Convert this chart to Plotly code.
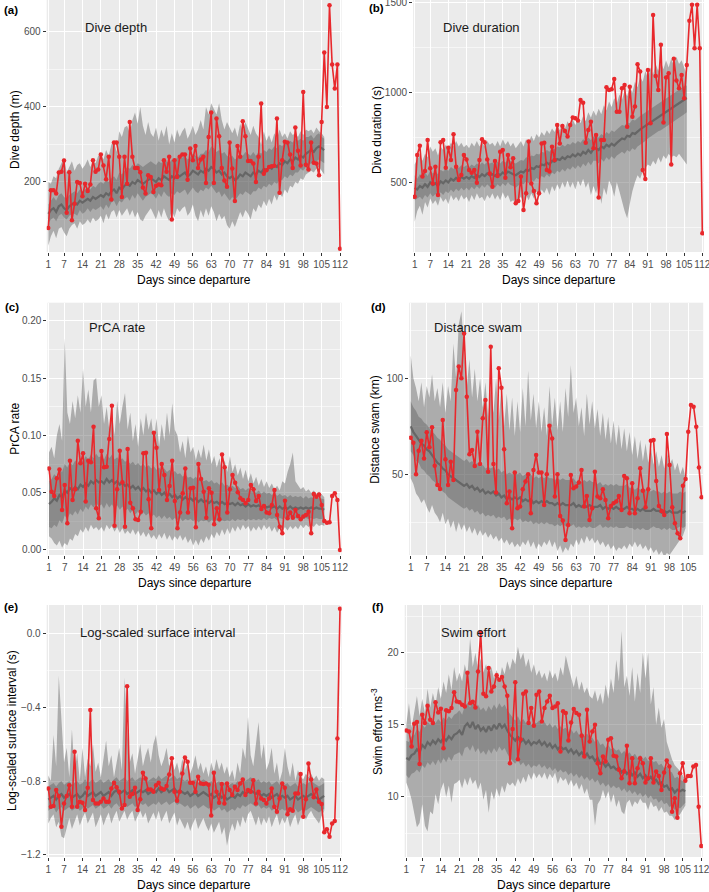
import plotly.graph_objects as go

W, H = 709, 892

# ------------------------------------------------------------------ data
ticks_112 = [1, 7, 14, 21, 28, 35, 42, 49, 56, 63, 70, 77, 84, 91, 98, 105, 112]
ticks_105 = [1, 7, 14, 21, 28, 35, 42, 49, 56, 63, 70, 77, 84, 91, 98, 105]

# (a) Dive depth
a_red = [77, 178, 178, 169, 225, 227, 257, 118, 226, 98,
         142, 200, 197, 162, 195, 176, 193, 258, 227, 233,
         273, 244, 207, 267, 153, 305, 305, 267, 160, 267,
         195, 360, 267, 237, 237, 226, 185, 169, 218, 213,
         173, 190, 193, 191, 258, 227, 267, 100, 258, 213,
         267, 273, 273, 206, 289, 258, 296, 237, 260, 267,
         197, 320, 385, 197, 369, 322, 237, 204, 187, 305,
         236, 149, 296, 267, 362, 322, 256, 256, 249, 200,
         267, 409, 222, 231, 240, 242, 243, 369, 171, 258,
         307, 305, 273, 237, 345, 283, 244, 440, 246, 233,
         305, 251, 249, 218, 360, 545, 400, 671, 513, 449,
         513, 22]
a_med = [115, 125, 130, 120, 135, 140, 130, 125, 135, 140,
         145, 140, 150, 145, 150, 155, 150, 160, 155, 160,
         165, 160, 170, 165, 175, 180, 170, 185, 180, 190,
         195, 190, 200, 195, 205, 200, 195, 200, 205, 210,
         205, 200, 210, 205, 215, 210, 205, 215, 210, 220,
         215, 220, 225, 215, 220, 230, 225, 220, 230, 225,
         235, 230, 240, 235, 225, 230, 220, 225, 215, 210,
         215, 205, 210, 220, 215, 225, 220, 215, 225, 220,
         230, 225, 235, 230, 240, 235, 245, 240, 250, 245,
         255, 250, 260, 255, 265, 260, 270, 265, 275, 280,
         285, 280, 290, 295, 290, 285]
a_in_lo = [90, 100, 105, 95, 110, 115, 105, 100, 110, 115,
           115, 110, 125, 115, 120, 130, 120, 130, 125, 130,
           135, 125, 140, 130, 145, 150, 135, 150, 145, 155,
           160, 150, 165, 155, 170, 160, 150, 160, 165, 170,
           165, 155, 170, 160, 175, 165, 160, 170, 165, 175,
           170, 175, 180, 165, 175, 185, 175, 170, 180, 175,
           185, 180, 190, 180, 170, 175, 160, 170, 160, 150,
           160, 150, 160, 170, 165, 175, 170, 165, 175, 175,
           185, 180, 190, 185, 195, 190, 200, 195, 205, 205,
           215, 210, 220, 215, 225, 225, 235, 230, 240, 245,
           250, 250, 255, 260, 255, 250]
a_in_hi = [140, 150, 160, 150, 165, 170, 160, 155, 165, 170,
           175, 170, 180, 175, 180, 185, 180, 190, 185, 195,
           200, 195, 205, 200, 210, 215, 205, 225, 220, 230,
           240, 235, 245, 240, 250, 245, 240, 245, 250, 255,
           250, 245, 255, 250, 260, 255, 250, 260, 255, 265,
           260, 265, 270, 260, 265, 275, 270, 265, 275, 275,
           285, 280, 295, 290, 280, 285, 275, 280, 270, 265,
           270, 260, 265, 275, 270, 280, 275, 270, 280, 270,
           280, 275, 285, 280, 290, 285, 295, 290, 300, 295,
           305, 300, 310, 305, 315, 310, 315, 310, 320, 320,
           325, 315, 325, 330, 320, 315]
a_out_lo = [30, 55, 70, 50, 75, 80, 65, 55, 75, 85,
            90, 75, 95, 85, 90, 100, 90, 105, 95, 100,
            110, 90, 115, 100, 120, 125, 105, 125, 110, 120,
            130, 110, 125, 105, 120, 100, 95, 110, 120, 130,
            115, 100, 125, 105, 130, 110, 95, 125, 105, 130,
            120, 130, 135, 110, 120, 140, 110, 95, 125, 105,
            130, 110, 135, 120, 95, 115, 100, 110, 85, 75,
            95, 80, 100, 120, 105, 125, 115, 100, 130, 120,
            140, 130, 150, 135, 155, 140, 165, 150, 170, 160,
            180, 170, 190, 185, 200, 195, 210, 205, 220, 225,
            230, 225, 235, 240, 230, 220]
a_out_hi = [200, 195, 215, 210, 235, 250, 265, 225, 240, 255,
            230, 245, 250, 235, 245, 260, 240, 255, 250, 270,
            275, 260, 285, 270, 300, 310, 280, 335, 320, 345,
            350, 330, 365, 385, 355, 400, 350, 325, 360, 330,
            320, 345, 310, 340, 320, 350, 300, 330, 305, 340,
            320, 335, 345, 315, 330, 350, 325, 340, 365, 340,
            400, 380, 410, 395, 380, 410, 365, 340, 360, 345,
            330, 345, 320, 355, 335, 360, 340, 325, 350, 330,
            320, 300, 335, 310, 325, 305, 330, 315, 340, 320,
            330, 315, 335, 325, 330, 320, 335, 325, 340, 335,
            340, 330, 345, 335, 330, 320]

# (b) Dive duration
b_red = [420, 652, 704, 532, 563, 736, 578, 494, 587, 429,
         723, 736, 582, 693, 625, 768, 587, 513, 541, 652,
         628, 569, 554, 569, 498, 625, 740, 723, 628, 550,
         476, 619, 535, 671, 680, 526, 652, 584, 634, 383,
         396, 532, 346, 439, 727, 494, 452, 383, 439, 717,
         721, 569, 560, 699, 625, 820, 717, 814, 786, 755,
         820, 862, 857, 844, 959, 944, 721, 792, 838, 690,
         764, 415, 736, 736, 1030, 1015, 1019, 1076, 894, 894,
         1024, 1043, 810, 1033, 866, 922, 1158, 1117, 569, 519,
         1126, 829, 1433, 1093, 1015, 1266, 833, 1084, 1108, 600,
         1188, 1067, 1024, 1098, 968, 1154, 1401, 1489, 1247, 1489,
         1247, 216]
b_med = [470, 460, 480, 470, 490, 475, 500, 485, 495, 480,
         505, 495, 510, 500, 520, 510, 525, 515, 530, 520,
         530, 520, 535, 525, 540, 530, 545, 535, 550, 540,
         545, 535, 550, 540, 555, 545, 560, 550, 545, 540,
         550, 560, 555, 570, 565, 580, 575, 590, 585, 600,
         595, 610, 600, 620, 615, 630, 625, 640, 630, 645,
         640, 655, 645, 660, 650, 670, 660, 680, 665, 685,
         690, 680, 700, 690, 710, 700, 715, 705, 720, 730,
         745, 740, 760, 755, 775, 770, 785, 795, 805, 815,
         825, 835, 845, 855, 865, 875, 885, 895, 905, 915,
         925, 935, 945, 955, 960, 970]
b_in_lo = [400, 410, 420, 405, 430, 415, 440, 420, 435, 420,
           445, 430, 450, 440, 460, 445, 465, 450, 470, 455,
           470, 455, 475, 460, 480, 465, 485, 470, 490, 475,
           485, 470, 490, 475, 495, 480, 500, 485, 480, 470,
           485, 495, 490, 505, 495, 515, 505, 525, 515, 535,
           525, 545, 530, 555, 545, 565, 555, 575, 560, 580,
           570, 590, 575, 595, 580, 605, 590, 615, 595, 620,
           620, 605, 630, 615, 640, 625, 645, 630, 650, 660,
           670, 660, 680, 670, 690, 680, 700, 710, 720, 730,
           745, 755, 765, 775, 785, 790, 800, 810, 820, 830,
           840, 850, 860, 870, 880, 890]
b_in_hi = [540, 520, 545, 535, 555, 535, 565, 550, 560, 545,
           570, 560, 575, 565, 585, 575, 590, 580, 595, 585,
           595, 585, 600, 590, 605, 595, 610, 600, 615, 605,
           610, 600, 615, 605, 620, 610, 625, 615, 610, 605,
           615, 625, 620, 640, 635, 650, 645, 660, 655, 670,
           665, 680, 670, 690, 685, 700, 695, 710, 700, 715,
           710, 725, 715, 730, 720, 740, 730, 750, 735, 755,
           760, 750, 770, 760, 780, 770, 790, 780, 795, 805,
           820, 815, 835, 830, 850, 845, 860, 870, 880, 890,
           900, 910, 920, 930, 940, 950, 960, 970, 980, 990,
           1000, 1010, 1020, 1030, 1035, 1040]
b_out_lo = [280, 340, 370, 320, 390, 360, 410, 380, 400, 370,
            420, 390, 410, 380, 430, 400, 420, 395, 430, 405,
            420, 390, 430, 400, 440, 410, 420, 395, 430, 410,
            440, 405, 430, 400, 445, 410, 430, 390, 400, 380,
            400, 420, 390, 430, 400, 440, 410, 450, 420, 460,
            440, 470, 430, 480, 450, 490, 460, 500, 470, 510,
            470, 500, 460, 510, 480, 520, 470, 500, 430, 480,
            440, 500, 380, 470, 430, 510, 480, 420, 500, 450,
            400, 340, 300, 380, 450, 500, 540, 520, 560, 580,
            600, 590, 620, 600, 640, 610, 650, 630, 660, 640,
            650, 640, 660, 640, 620, 600]
b_out_hi = [600, 630, 650, 620, 660, 640, 700, 670, 690, 650,
            700, 680, 710, 690, 720, 700, 730, 700, 720, 695,
            710, 690, 720, 700, 730, 700, 720, 700, 730, 710,
            720, 700, 730, 700, 740, 710, 730, 700, 720, 690,
            710, 730, 700, 740, 720, 760, 730, 770, 750, 780,
            760, 790, 770, 800, 780, 820, 790, 830, 800, 840,
            810, 850, 820, 860, 830, 870, 840, 890, 860, 900,
            870, 910, 880, 930, 900, 950, 920, 970, 940, 990,
            960, 1010, 980, 1030, 1000, 1060, 1030, 1090, 1060, 1120,
            1080, 1140, 1100, 1160, 1120, 1170, 1130, 1180, 1140, 1190,
            1150, 1200, 1160, 1180, 1140, 1100]

# (c) PrCA rate
c_red = [0.0712, 0.0509, 0.0471, 0.0625, 0.0703, 0.0349, 0.0567, 0.0233, 0.0779, 0.0436,
         0.0529, 0.0953, 0.0756, 0.0843, 0.0422, 0.0779, 0.0765, 0.1076, 0.0363, 0.0276,
         0.0863, 0.0721, 0.0727, 0.0968, 0.1259, 0.0212, 0.0529, 0.0866, 0.0590, 0.0203,
         0.0881, 0.0413, 0.0363, 0.0267, 0.0262, 0.0334, 0.0843, 0.0849, 0.0442, 0.0189,
         0.1023, 0.0892, 0.0523, 0.0750, 0.0654, 0.0436, 0.0558, 0.0779, 0.0427, 0.0189,
         0.0326, 0.0494, 0.0712, 0.0326, 0.0538, 0.0544, 0.0198, 0.0750, 0.0619, 0.0509,
         0.0282, 0.0538, 0.0500, 0.0224, 0.0363, 0.0267, 0.0834, 0.0721, 0.0326, 0.0529,
         0.0654, 0.0587, 0.0503, 0.0451, 0.0436, 0.0407, 0.0436, 0.0567, 0.0529, 0.0427,
         0.0471, 0.0358, 0.0384, 0.0326, 0.0320, 0.0392, 0.0523, 0.0305, 0.0203, 0.0145,
         0.0430, 0.0276, 0.0326, 0.0282, 0.0349, 0.0297, 0.0267, 0.0291, 0.0305, 0.0334,
         0.0145, 0.0488, 0.0465, 0.0485, 0.0392, 0.0253, 0.0238, 0.0241, 0.0471, 0.0494,
         0.0436, 0.0]
c_med = [0.040, 0.042, 0.045, 0.043, 0.048, 0.046, 0.052, 0.050, 0.054, 0.052,
         0.055, 0.053, 0.057, 0.055, 0.058, 0.056, 0.060, 0.058, 0.061, 0.059,
         0.060, 0.058, 0.062, 0.059, 0.061, 0.058, 0.060, 0.057, 0.059, 0.056,
         0.057, 0.054, 0.056, 0.053, 0.055, 0.052, 0.054, 0.051, 0.053, 0.050,
         0.052, 0.049, 0.051, 0.048, 0.050, 0.047, 0.049, 0.046, 0.048, 0.045,
         0.047, 0.044, 0.046, 0.044, 0.045, 0.043, 0.045, 0.042, 0.044, 0.042,
         0.043, 0.041, 0.043, 0.041, 0.042, 0.040, 0.042, 0.040, 0.041, 0.040,
         0.041, 0.039, 0.041, 0.039, 0.040, 0.038, 0.040, 0.038, 0.039, 0.038,
         0.039, 0.037, 0.039, 0.037, 0.038, 0.037, 0.038, 0.036, 0.038, 0.036,
         0.037, 0.036, 0.038, 0.036, 0.037, 0.036, 0.037, 0.036, 0.037, 0.036,
         0.037, 0.036, 0.037, 0.036, 0.036, 0.035]
c_in_lo = [0.020, 0.019, 0.022, 0.020, 0.026, 0.023, 0.030, 0.027, 0.032, 0.030,
           0.034, 0.031, 0.036, 0.033, 0.038, 0.035, 0.040, 0.037, 0.041, 0.038,
           0.040, 0.036, 0.041, 0.037, 0.040, 0.036, 0.039, 0.035, 0.038, 0.034,
           0.036, 0.032, 0.035, 0.031, 0.034, 0.030, 0.033, 0.030, 0.032, 0.029,
           0.031, 0.028, 0.030, 0.027, 0.030, 0.027, 0.029, 0.026, 0.028, 0.026,
           0.028, 0.025, 0.027, 0.026, 0.027, 0.025, 0.027, 0.024, 0.026, 0.025,
           0.026, 0.024, 0.026, 0.025, 0.026, 0.024, 0.026, 0.025, 0.026, 0.025,
           0.027, 0.025, 0.027, 0.026, 0.027, 0.025, 0.027, 0.026, 0.027, 0.026,
           0.027, 0.026, 0.028, 0.026, 0.028, 0.027, 0.028, 0.026, 0.028, 0.027,
           0.028, 0.027, 0.029, 0.027, 0.028, 0.027, 0.028, 0.027, 0.028, 0.027,
           0.028, 0.027, 0.028, 0.027, 0.027, 0.026]
c_in_hi = [0.060, 0.062, 0.066, 0.064, 0.070, 0.068, 0.075, 0.072, 0.077, 0.074,
           0.078, 0.075, 0.080, 0.077, 0.082, 0.079, 0.083, 0.080, 0.084, 0.081,
           0.082, 0.079, 0.084, 0.080, 0.083, 0.079, 0.081, 0.078, 0.080, 0.077,
           0.078, 0.075, 0.077, 0.074, 0.076, 0.073, 0.075, 0.072, 0.074, 0.071,
           0.073, 0.070, 0.072, 0.069, 0.071, 0.068, 0.070, 0.067, 0.069, 0.066,
           0.067, 0.064, 0.066, 0.063, 0.064, 0.062, 0.064, 0.061, 0.063, 0.060,
           0.061, 0.059, 0.061, 0.058, 0.059, 0.057, 0.059, 0.056, 0.057, 0.055,
           0.056, 0.054, 0.056, 0.053, 0.054, 0.052, 0.054, 0.051, 0.052, 0.050,
           0.052, 0.049, 0.051, 0.049, 0.050, 0.048, 0.050, 0.047, 0.049, 0.047,
           0.048, 0.046, 0.048, 0.046, 0.047, 0.046, 0.047, 0.045, 0.047, 0.045,
           0.046, 0.045, 0.046, 0.045, 0.045, 0.044]
c_out_lo = [0.012, 0.010, 0.006, 0.004, 0.008, 0.002, 0.006, 0.004, 0.010, 0.008,
            0.014, 0.012, 0.018, 0.015, 0.020, 0.016, 0.022, 0.018, 0.020, 0.017,
            0.020, 0.016, 0.022, 0.018, 0.021, 0.016, 0.020, 0.015, 0.019, 0.014,
            0.017, 0.014, 0.018, 0.013, 0.017, 0.012, 0.016, 0.011, 0.015, 0.010,
            0.013, 0.009, 0.014, 0.010, 0.015, 0.009, 0.013, 0.008, 0.012, 0.009,
            0.013, 0.008, 0.012, 0.006, 0.010, 0.004, 0.009, 0.004, 0.010, 0.006,
            0.012, 0.008, 0.014, 0.010, 0.016, 0.012, 0.018, 0.013, 0.019, 0.014,
            0.020, 0.016, 0.021, 0.017, 0.022, 0.018, 0.021, 0.016, 0.020, 0.017,
            0.021, 0.017, 0.022, 0.018, 0.021, 0.016, 0.020, 0.015, 0.019, 0.016,
            0.020, 0.017, 0.021, 0.018, 0.021, 0.018, 0.022, 0.019, 0.022, 0.020,
            0.022, 0.020, 0.023, 0.021, 0.022, 0.021]
c_out_hi = [0.085, 0.090, 0.080, 0.100, 0.110, 0.095, 0.185, 0.120, 0.110, 0.130,
            0.115, 0.135, 0.120, 0.158, 0.125, 0.140, 0.120, 0.148, 0.150, 0.125,
            0.135, 0.110, 0.125, 0.105, 0.120, 0.100, 0.130, 0.110, 0.125, 0.137,
            0.105, 0.120, 0.095, 0.110, 0.090, 0.115, 0.100, 0.120, 0.105, 0.115,
            0.095, 0.115, 0.090, 0.110, 0.095, 0.120, 0.100, 0.128, 0.105, 0.100,
            0.085, 0.095, 0.080, 0.100, 0.085, 0.090, 0.078, 0.088, 0.080, 0.092,
            0.078, 0.088, 0.075, 0.082, 0.072, 0.080, 0.070, 0.078, 0.068, 0.082,
            0.068, 0.075, 0.065, 0.072, 0.062, 0.070, 0.060, 0.067, 0.058, 0.064,
            0.056, 0.062, 0.055, 0.060, 0.054, 0.058, 0.053, 0.056, 0.052, 0.060,
            0.058, 0.068, 0.075, 0.085, 0.060, 0.056, 0.053, 0.055, 0.051, 0.053,
            0.050, 0.052, 0.049, 0.051, 0.048, 0.046]

# (d) Distance swam
d_red = [69.1, 66.5, 50.0, 62.3, 67.5, 58.3, 71.9, 64.1, 74.5, 54.5,
         44.4, 42.4, 78.3, 57.8, 44.4, 56.6, 47.0, 93.9, 106.1, 100.0,
         123.4, 90.4, 60.4, 62.7, 54.3, 72.2, 55.4, 79.2, 88.7, 51.4,
         116.5, 55.4, 40.5, 105.2, 95.1, 63.0, 34.9, 41.0, 21.9, 50.9,
         32.3, 33.2, 42.2, 46.2, 50.0, 29.7, 52.3, 60.1, 50.9, 50.9,
         34.0, 50.0, 75.3, 68.7, 38.4, 50.0, 28.3, 25.9, 15.8, 23.6,
         49.7, 42.7, 43.6, 45.7, 52.3, 33.2, 38.7, 26.2, 32.3, 51.4,
         38.4, 37.5, 42.2, 36.6, 27.1, 33.5, 34.9, 35.8, 38.7, 31.4,
         49.1, 47.9, 29.7, 45.3, 29.7, 37.5, 53.1, 41.5, 32.8, 42.2,
         67.5, 67.9, 46.5, 33.5, 30.9, 28.8, 71.0, 54.9, 32.8, 24.5,
         19.3, 16.7, 44.1, 47.6, 72.2, 86.1, 85.2, 74.8, 53.6, 38.0]
d_med = [75, 72, 70, 68, 66, 65, 63, 62, 60, 58,
         56, 55, 53, 52, 50, 49, 48, 47, 46, 45,
         44, 45, 43, 44, 42, 43, 41, 42, 40, 41,
         40, 41, 39, 40, 38, 39, 37, 38, 37, 38,
         37, 38, 36, 37, 36, 37, 35, 36, 35, 36,
         35, 36, 35, 35, 34, 35, 34, 35, 34, 34,
         34, 35, 33, 34, 33, 34, 33, 34, 33, 33,
         33, 34, 32, 33, 32, 33, 32, 33, 32, 32,
         32, 33, 32, 32, 31, 32, 31, 32, 31, 31,
         31, 32, 31, 31, 30, 31, 30, 31, 30, 30,
         30, 31, 30, 31]
d_in_lo = [62, 60, 57, 56, 53, 52, 50, 49, 47, 46,
           44, 43, 41, 40, 38, 37, 36, 35, 34, 33,
           32, 33, 31, 32, 30, 31, 29, 30, 28, 29,
           28, 29, 27, 28, 27, 28, 26, 27, 26, 27,
           26, 27, 25, 26, 25, 26, 24, 25, 24, 25,
           24, 25, 24, 24, 23, 24, 23, 24, 23, 23,
           23, 24, 22, 23, 22, 23, 22, 23, 22, 22,
           23, 24, 22, 23, 22, 23, 22, 23, 22, 22,
           22, 23, 22, 22, 21, 22, 21, 22, 21, 21,
           22, 23, 22, 22, 21, 22, 21, 22, 21, 21,
           22, 23, 22, 23]
d_in_hi = [88, 85, 83, 80, 79, 77, 76, 74, 72, 71,
           69, 68, 66, 65, 63, 62, 61, 60, 59, 58,
           57, 58, 56, 57, 55, 56, 54, 55, 53, 54,
           53, 54, 52, 53, 51, 52, 50, 51, 50, 51,
           50, 51, 49, 50, 49, 50, 48, 49, 48, 49,
           48, 49, 48, 48, 47, 48, 47, 48, 47, 47,
           47, 48, 46, 47, 46, 47, 46, 47, 46, 46,
           45, 46, 44, 45, 44, 45, 44, 45, 44, 44,
           44, 45, 43, 43, 42, 43, 42, 43, 42, 42,
           41, 42, 41, 41, 40, 41, 40, 41, 40, 40,
           40, 41, 40, 41]
d_out_lo = [48, 45, 40, 38, 35, 37, 33, 30, 34, 30,
            28, 25, 30, 24, 27, 22, 26, 20, 25, 21,
            24, 20, 23, 19, 22, 18, 21, 18, 20, 17,
            19, 16, 18, 15, 17, 14, 16, 13, 15, 12,
            14, 12, 15, 13, 16, 12, 15, 11, 14, 12,
            15, 13, 16, 12, 15, 10, 13, 9, 12, 10,
            14, 12, 16, 13, 17, 14, 18, 15, 17, 14,
            16, 13, 15, 12, 14, 11, 13, 10, 12, 11,
            13, 11, 14, 12, 15, 12, 14, 11, 13, 10,
            12, 9, 11, 8, 10, 7, 9, 8, 10, 12,
            14, 16, 18, 22]
d_out_hi = [112, 100, 95, 88, 98, 85, 96, 90, 102, 88,
            95, 85, 98, 82, 96, 88, 118, 100, 128, 135,
            115, 95, 110, 90, 105, 88, 100, 85, 98, 80,
            95, 82, 100, 78, 96, 75, 92, 73, 90, 70,
            88, 72, 95, 75, 104, 78, 92, 74, 88, 72,
            85, 70, 96, 75, 90, 73, 88, 72, 95, 80,
            107, 82, 90, 75, 85, 70, 92, 76, 88, 74,
            84, 70, 82, 68, 80, 66, 78, 65, 76, 63,
            74, 62, 72, 60, 70, 58, 68, 57, 66, 56,
            64, 55, 62, 54, 60, 53, 62, 55, 58, 52,
            56, 50, 54, 48]

# (e) Log-scaled surface interval
e_red = [-0.840, -0.939, -0.935, -0.849, -0.881, -1.047, -0.921, -0.881, -0.822, -0.939,
         -0.641, -0.939, -0.912, -0.917, -0.957, -0.836, -0.416, -0.903, -0.921, -0.921,
         -0.912, -0.894, -0.912, -0.912, -0.840, -0.809, -0.834, -0.858, -0.948, -0.930,
         -0.287, -0.885, -0.870, -0.836, -0.957, -0.899, -0.755, -0.786, -0.845, -0.845,
         -0.858, -0.822, -0.809, -0.840, -0.845, -0.827, -0.764, -0.677, -0.858, -0.906,
         -0.858, -0.759, -0.672, -0.696, -0.809, -0.809, -0.858, -0.777, -0.813, -0.816,
         -0.813, -0.820, -0.987, -0.755, -0.858, -0.917, -0.816, -0.921, -0.813, -0.849,
         -0.876, -0.831, -0.849, -0.813, -0.791, -0.876, -0.849, -0.858, -0.795, -0.921,
         -0.858, -0.894, -0.903, -0.921, -0.894, -0.840, -0.939, -0.966, -0.894, -0.813,
         -0.836, -0.980, -0.953, -0.960, -0.867, -0.867, -0.762, -0.993, -0.899, -0.705,
         -0.791, -0.888, -0.845, -0.912, -0.924, -1.077, -1.061, -1.101, -1.029, -1.016,
         -0.569, 0.133]
e_med = [-0.90, -0.89, -0.88, -0.90, -0.88, -0.87, -0.89, -0.88, -0.87, -0.89,
         -0.88, -0.87, -0.89, -0.88, -0.86, -0.88, -0.87, -0.86, -0.88, -0.87,
         -0.86, -0.88, -0.87, -0.86, -0.88, -0.86, -0.85, -0.87, -0.86, -0.85,
         -0.87, -0.86, -0.85, -0.87, -0.86, -0.85, -0.86, -0.85, -0.87, -0.86,
         -0.85, -0.86, -0.84, -0.86, -0.85, -0.84, -0.86, -0.85, -0.84, -0.86,
         -0.85, -0.86, -0.87, -0.86, -0.88, -0.87, -0.86, -0.88, -0.87, -0.86,
         -0.87, -0.88, -0.87, -0.89, -0.88, -0.87, -0.89, -0.88, -0.90, -0.89,
         -0.88, -0.89, -0.87, -0.88, -0.86, -0.87, -0.86, -0.85, -0.86, -0.87,
         -0.86, -0.88, -0.87, -0.88, -0.87, -0.89, -0.88, -0.87, -0.89, -0.88,
         -0.89, -0.88, -0.90, -0.89, -0.88, -0.90, -0.89, -0.88, -0.89, -0.88,
         -0.87, -0.88, -0.89, -0.90, -0.89, -0.88]
e_in_lo = [-0.96, -0.95, -0.94, -0.97, -0.95, -0.94, -0.96, -0.95, -0.94, -0.96,
           -0.95, -0.94, -0.96, -0.95, -0.93, -0.95, -0.94, -0.93, -0.95, -0.94,
           -0.93, -0.95, -0.94, -0.93, -0.95, -0.93, -0.92, -0.94, -0.93, -0.92,
           -0.94, -0.93, -0.92, -0.94, -0.93, -0.92, -0.93, -0.92, -0.94, -0.93,
           -0.92, -0.93, -0.91, -0.93, -0.92, -0.91, -0.93, -0.92, -0.91, -0.93,
           -0.92, -0.93, -0.94, -0.93, -0.95, -0.94, -0.93, -0.95, -0.94, -0.93,
           -0.94, -0.95, -0.94, -0.96, -0.95, -0.94, -0.96, -0.95, -0.97, -0.96,
           -0.95, -0.96, -0.94, -0.95, -0.93, -0.94, -0.93, -0.92, -0.93, -0.94,
           -0.93, -0.95, -0.94, -0.95, -0.94, -0.96, -0.95, -0.94, -0.96, -0.95,
           -0.96, -0.95, -0.97, -0.96, -0.95, -0.97, -0.96, -0.95, -0.96, -0.95,
           -0.94, -0.95, -0.96, -0.97, -0.96, -0.95]
e_in_hi = [-0.83, -0.82, -0.81, -0.83, -0.81, -0.80, -0.82, -0.81, -0.80, -0.82,
           -0.81, -0.80, -0.82, -0.81, -0.79, -0.81, -0.80, -0.79, -0.81, -0.80,
           -0.79, -0.81, -0.80, -0.79, -0.81, -0.79, -0.78, -0.80, -0.79, -0.78,
           -0.80, -0.79, -0.78, -0.80, -0.79, -0.78, -0.79, -0.78, -0.80, -0.79,
           -0.78, -0.79, -0.77, -0.79, -0.78, -0.77, -0.79, -0.78, -0.77, -0.79,
           -0.78, -0.79, -0.80, -0.79, -0.81, -0.80, -0.79, -0.81, -0.80, -0.79,
           -0.80, -0.81, -0.80, -0.82, -0.81, -0.80, -0.82, -0.81, -0.83, -0.82,
           -0.81, -0.82, -0.80, -0.81, -0.79, -0.80, -0.79, -0.78, -0.79, -0.80,
           -0.79, -0.81, -0.80, -0.81, -0.80, -0.82, -0.81, -0.80, -0.82, -0.81,
           -0.82, -0.81, -0.83, -0.82, -0.81, -0.83, -0.82, -0.81, -0.82, -0.81,
           -0.80, -0.81, -0.82, -0.83, -0.82, -0.81]
e_out_lo = [-1.03, -1.00, -0.98, -1.05, -1.02, -1.10, -1.11, -1.05, -1.00, -1.06,
            -1.02, -0.98, -1.04, -1.00, -0.97, -1.03, -1.00, -0.97, -1.05, -1.02,
            -0.98, -1.04, -1.00, -0.97, -1.03, -0.99, -0.96, -1.02, -0.99, -0.96,
            -1.01, -0.98, -0.96, -1.02, -0.99, -0.96, -1.00, -0.97, -1.03, -1.00,
            -0.97, -1.01, -0.96, -1.02, -0.99, -0.96, -1.03, -1.00, -0.97, -1.04,
            -1.00, -1.03, -1.06, -1.02, -1.07, -1.03, -1.00, -1.06, -1.03, -1.00,
            -1.04, -1.07, -1.03, -1.08, -1.05, -1.02, -1.09, -1.05, -1.15, -1.08,
            -1.03, -1.07, -1.01, -1.05, -0.99, -1.03, -0.98, -0.96, -1.00, -1.04,
            -0.99, -1.04, -1.00, -1.03, -0.99, -1.05, -1.01, -0.98, -1.04, -1.00,
            -1.03, -0.99, -1.05, -1.01, -0.98, -1.04, -1.00, -0.97, -1.01, -0.98,
            -0.96, -0.99, -1.01, -1.03, -0.99, -0.96]
e_out_hi = [-0.77, -0.80, -0.55, -0.72, -0.23, -0.45, -0.70, -0.62, -0.78, -0.52,
            -0.75, -0.65, -0.80, -0.62, -0.78, -0.68, -0.72, -0.60, -0.75, -0.70,
            -0.78, -0.68, -0.58, -0.72, -0.66, -0.78, -0.70, -0.62, -0.74, -0.24,
            -0.52, -0.70, -0.65, -0.76, -0.68, -0.60, -0.72, -0.66, -0.62, -0.70,
            -0.60, -0.55, -0.66, -0.72, -0.68, -0.62, -0.72, -0.68, -0.74, -0.70,
            -0.76, -0.68, -0.74, -0.70, -0.76, -0.72, -0.66, -0.74, -0.70, -0.76,
            -0.72, -0.78, -0.70, -0.75, -0.68, -0.74, -0.70, -0.76, -0.72, -0.78,
            -0.74, -0.80, -0.70, -0.76, -0.62, -0.68, -0.45, -0.66, -0.72, -0.60,
            -0.48, -0.68, -0.60, -0.74, -0.70, -0.62, -0.76, -0.70, -0.80, -0.75,
            -0.62, -0.72, -0.78, -0.70, -0.80, -0.74, -0.78, -0.79, -0.76, -0.78,
            -0.76, -0.79, -0.77, -0.80, -0.78, -0.79]

# (f) Swim effort
f_red = [14.61, 14.54, 13.50, 15.07, 15.19, 12.29, 15.69, 15.12, 16.32, 15.35,
         15.12, 16.57, 15.86, 16.11, 13.38, 16.00, 15.93, 16.16, 17.25, 16.62,
         16.57, 16.39, 16.27, 18.60, 16.50, 16.60, 16.20, 18.70, 21.40, 17.15,
         16.97, 18.94, 17.31, 17.66, 18.43, 18.12, 18.31, 17.66, 17.01, 12.34,
         14.70, 17.94, 12.62, 14.00, 17.15, 17.31, 15.12, 16.16, 14.93, 17.08,
         17.31, 15.23, 16.16, 16.62, 17.01, 16.16, 16.27, 16.50, 13.15, 15.93,
         15.81, 13.91, 15.16, 16.09, 15.81, 15.70, 14.24, 12.80, 16.04, 13.84,
         14.54, 15.00, 12.34, 11.64, 12.80, 12.45, 13.96, 14.07, 12.85, 12.80,
         11.88, 11.30, 11.76, 13.54, 10.95, 12.69, 10.95, 11.99, 12.69, 12.34,
         11.00, 11.30, 12.69, 11.00, 11.76, 11.46, 10.49, 11.69, 12.52, 12.11,
         8.98, 9.91, 8.56, 11.64, 12.34, 11.13, 11.46, 11.46, 12.11, 12.22,
         9.33, 6.60]
f_med = [12.7, 12.6, 12.9, 13.0, 13.3, 13.1, 13.6, 13.4, 13.8, 13.6,
         13.9, 13.7, 14.0, 13.8, 14.1, 13.9, 14.2, 14.0, 14.3, 14.4,
         14.6, 14.3, 14.9, 15.1, 14.8, 15.2, 14.7, 15.0, 14.6, 14.8,
         14.5, 14.9, 14.6, 15.0, 14.7, 15.1, 14.8, 15.0, 14.6, 14.3,
         14.1, 13.9, 14.2, 13.8, 14.0, 13.7, 13.9, 13.6, 13.8, 13.7,
         13.9, 13.6, 13.8, 13.5, 13.7, 13.4, 13.6, 13.3, 13.5, 13.3,
         13.4, 13.1, 13.3, 13.0, 13.2, 12.9, 13.1, 12.8, 13.0, 12.7,
         12.8, 12.5, 12.7, 12.3, 12.4, 12.1, 12.3, 12.0, 12.1, 11.9,
         12.0, 11.7, 11.9, 11.6, 11.8, 11.5, 11.7, 11.4, 11.6, 11.3,
         11.5, 11.2, 11.4, 11.1, 11.2, 10.9, 11.0, 10.7, 10.8, 10.5,
         10.6, 10.3, 10.5, 10.4, 10.5, 10.4]
f_in_lo = [11.5, 11.3, 11.6, 11.7, 11.9, 11.7, 12.2, 12.0, 12.4, 12.2,
           12.5, 12.2, 12.6, 12.3, 12.7, 12.4, 12.8, 12.5, 12.9, 13.0,
           13.1, 12.8, 13.4, 13.5, 13.2, 13.6, 13.1, 13.4, 13.0, 13.2,
           12.9, 13.3, 13.0, 13.4, 13.1, 13.5, 13.2, 13.4, 13.0, 12.7,
           12.5, 12.3, 12.6, 12.2, 12.4, 12.1, 12.3, 12.0, 12.2, 12.1,
           12.3, 12.0, 12.2, 11.9, 12.1, 11.8, 12.0, 11.7, 11.9, 11.7,
           11.8, 11.5, 11.7, 11.4, 11.6, 11.3, 11.5, 11.2, 11.4, 11.1,
           11.3, 11.0, 11.2, 10.8, 11.0, 10.7, 10.9, 10.6, 10.8, 10.6,
           10.7, 10.4, 10.6, 10.3, 10.5, 10.2, 10.4, 10.1, 10.3, 10.0,
           10.2, 9.9, 10.1, 9.8, 9.9, 9.6, 9.8, 9.5, 9.6, 9.3,
           9.4, 9.1, 9.3, 9.2, 9.4, 9.6]
f_in_hi = [13.9, 13.8, 14.2, 14.3, 14.7, 14.5, 15.0, 14.8, 15.2, 15.0,
           15.3, 15.1, 15.4, 15.2, 15.5, 15.3, 15.6, 15.4, 15.7, 15.8,
           16.0, 15.7, 16.3, 16.5, 16.2, 16.6, 16.1, 16.4, 16.0, 16.2,
           15.9, 16.3, 16.0, 16.4, 16.1, 16.5, 16.2, 16.4, 16.0, 15.7,
           15.5, 15.3, 15.6, 15.2, 15.4, 15.1, 15.3, 15.0, 15.2, 15.1,
           15.3, 15.0, 15.2, 14.9, 15.1, 14.8, 15.0, 14.7, 14.9, 14.7,
           14.8, 14.5, 14.7, 14.4, 14.6, 14.3, 14.5, 14.2, 14.4, 14.1,
           14.1, 13.8, 14.0, 13.6, 13.7, 13.4, 13.6, 13.3, 13.4, 13.2,
           13.3, 13.0, 13.2, 12.9, 13.1, 12.8, 13.0, 12.7, 12.9, 12.6,
           12.8, 12.5, 12.7, 12.4, 12.5, 12.2, 12.3, 12.0, 12.1, 11.8,
           11.7, 11.3, 11.4, 11.2, 11.1, 11.0]
f_out_lo = [11.0, 10.5, 9.8, 9.0, 7.9, 8.2, 9.5, 8.0, 7.6, 9.0,
            8.8, 10.2, 9.5, 10.5, 11.0, 10.0, 10.8, 9.6, 10.9, 11.0,
            11.2, 10.6, 11.3, 10.8, 11.4, 10.9, 11.2, 10.5, 11.0, 9.8,
            10.5, 8.9, 10.4, 9.8, 10.6, 10.0, 10.8, 10.3, 11.0, 10.8,
            11.0, 10.7, 11.3, 10.9, 11.4, 11.0, 11.6, 11.2, 11.7, 11.3,
            11.6, 11.3, 11.7, 11.2, 11.6, 11.3, 11.7, 10.9, 11.4, 11.1,
            11.3, 10.8, 11.2, 10.7, 11.0, 10.5, 10.9, 10.2, 10.6, 9.8,
            9.8, 8.0, 9.5, 9.8, 10.5, 9.9, 10.4, 9.6, 10.2, 9.3,
            9.8, 9.0, 8.8, 9.6, 9.8, 9.3, 9.7, 9.5, 9.9, 9.6,
            9.6, 9.1, 9.7, 9.3, 9.4, 9.0, 9.3, 8.9, 9.0, 8.7,
            8.7, 8.4, 8.6, 8.8, 9.1, 9.4]
f_out_hi = [15.0, 16.5, 14.8, 16.0, 17.0, 15.6, 16.8, 15.8, 17.5, 16.2,
            17.2, 16.4, 17.6, 16.8, 18.0, 17.2, 18.5, 17.4, 19.0, 18.0,
            18.6, 18.0, 19.2, 18.4, 21.0, 19.0, 20.0, 18.8, 19.6, 18.6,
            19.2, 18.4, 19.0, 18.2, 18.8, 18.0, 19.0, 18.5, 19.4, 18.8,
            19.6, 19.2, 20.4, 19.5, 20.0, 19.0, 19.6, 18.6, 19.2, 18.4,
            18.8, 18.2, 18.6, 18.0, 18.8, 18.2, 18.6, 18.0, 19.0, 18.4,
            19.8, 19.0, 18.2, 17.6, 18.4, 17.4, 18.0, 17.2, 17.6, 17.0,
            16.8, 17.4, 16.6, 17.2, 16.4, 17.8, 16.8, 18.2, 17.2, 19.5,
            18.0, 21.5, 17.6, 18.4, 17.0, 19.0, 16.6, 18.6, 17.2, 20.0,
            18.2, 20.0, 16.4, 17.6, 15.0, 16.2, 14.8, 15.4, 13.8, 13.2,
            12.6, 12.2, 12.0, 11.8, 11.5, 11.2]

# ------------------------------------------------------------------ layout helpers
def fx(px):
    return px / W


def fy(py):
    return 1 - py / H


panels = [
    dict(letter="(a)", title="Dive depth", ytitle="Dive depth (m)",
         red=a_red, med=a_med, ilo=a_in_lo, ihi=a_in_hi, olo=a_out_lo, ohi=a_out_hi,
         xdom=(46.7, 341.6), ydom=(0, 252), yrange=(13.3, 685), dtick=200, minor=100,
         fmt="", ticks=ticks_112, nx=112,
         letter_pos=(2, 10), title_pos=(83, 28), ytitle_x=15),
    dict(letter="(b)", title="Dive duration", ytitle="Dive duration (s)",
         red=b_red, med=b_med, ilo=b_in_lo, ihi=b_in_hi, olo=b_out_lo, ohi=b_out_hi,
         xdom=(413.1, 703.9), ydom=(0, 252), yrange=(112, 1516), dtick=500, minor=250,
         fmt="", ticks=ticks_112, nx=112,
         letter_pos=(367, 8), title_pos=(441, 28), ytitle_x=377),
    dict(letter="(c)", title="PrCA rate", ytitle="PrCA rate",
         red=c_red, med=c_med, ilo=c_in_lo, ihi=c_in_hi, olo=c_out_lo, ohi=c_out_hi,
         xdom=(47.4, 341.6), ydom=(302.7, 555), yrange=(-0.0044, 0.2158), dtick=0.05, minor=0.025,
         fmt=".2f", ticks=ticks_112, nx=112,
         letter_pos=(3, 307), title_pos=(87, 328), ytitle_x=15),
    dict(letter="(d)", title="Distance swam", ytitle="Distance swam (km)",
         red=d_red, med=d_med, ilo=d_in_lo, ihi=d_in_hi, olo=d_out_lo, ohi=d_out_hi,
         xdom=(409.1, 703.2), ydom=(302.7, 555), yrange=(7.97, 139.4), dtick=50, minor=25,
         fmt="", ticks=ticks_105, nx=110,
         letter_pos=(369, 307), title_pos=(432, 327), ytitle_x=375),
    dict(letter="(e)", title="Log-scaled surface interval", ytitle="Log-scaled surface interval (s)",
         red=e_red, med=e_med, ilo=e_in_lo, ihi=e_in_hi, olo=e_out_lo, ohi=e_out_hi,
         xdom=(46.7, 341.6), ydom=(605, 857), yrange=(-1.211, 0.153), dtick=0.4, minor=0.2,
         fmt=".1f", ticks=ticks_112, nx=112,
         letter_pos=(2, 607), title_pos=(78, 632), ytitle_x=12),
    dict(letter="(f)", title="Swim effort", ytitle="Swim effort ms<sup>-3</sup>",
         red=f_red, med=f_med, ilo=f_in_lo, ihi=f_in_hi, olo=f_out_lo, ohi=f_out_hi,
         xdom=(404.7, 702.9), ydom=(605, 857), yrange=(5.84, 23.3), dtick=5, minor=2.5,
         fmt="", ticks=ticks_112, nx=112,
         letter_pos=(370, 607), title_pos=(439, 632), ytitle_x=377),
]

FONT = "Liberation Sans, Arial, Helvetica, sans-serif"
RED = "#e8282c"

fig = go.Figure()
layout = dict(
    template="none",
    width=W, height=H, margin=dict(l=0, r=0, t=0, b=0, pad=0, autoexpand=False),
    paper_bgcolor="white", plot_bgcolor="#EBEBEB",
    showlegend=False, font=dict(family=FONT, color="#000000"),
)
annotations = []

for i, p in enumerate(panels):
    s = "" if i == 0 else str(i + 1)
    xa, ya = "x" + s, "y" + s

    def days(arr):
        return list(range(1, len(arr) + 1))

    # outer ribbon
    xo = days(p["ohi"])
    fig.add_trace(go.Scatter(
        x=xo + xo[::-1], y=p["ohi"] + p["olo"][::-1], fill="toself",
        fillcolor="rgba(95,95,95,0.45)", line=dict(width=0), mode="lines",
        hoverinfo="skip", xaxis=xa, yaxis=ya))
    # inner ribbon
    xi = days(p["ihi"])
    fig.add_trace(go.Scatter(
        x=xi + xi[::-1], y=p["ihi"] + p["ilo"][::-1], fill="toself",
        fillcolor="rgba(60,60,60,0.30)", line=dict(width=0), mode="lines",
        hoverinfo="skip", xaxis=xa, yaxis=ya))
    # median line
    fig.add_trace(go.Scatter(
        x=days(p["med"]), y=p["med"], mode="lines",
        line=dict(color="rgba(90,90,90,0.75)", width=2.2),
        hoverinfo="skip", xaxis=xa, yaxis=ya))
    # observed red series
    fig.add_trace(go.Scatter(
        x=days(p["red"]), y=p["red"], mode="lines+markers",
        line=dict(color=RED, width=1.6),
        marker=dict(color=RED, size=4.5),
        xaxis=xa, yaxis=ya))

    x0, x1 = p["xdom"]
    y0, y1 = p["ydom"]
    layout["xaxis" + s] = dict(
        domain=[fx(x0), fx(x1)], range=[0.4, p["nx"] + 0.6],
        tickmode="array", tickvals=p["ticks"], ticktext=[str(t) for t in p["ticks"]],
        tickangle=0, automargin=False, ticklabeloverflow="allow",
        showgrid=True, gridcolor="white", gridwidth=1, zeroline=False,
        ticks="outside", ticklen=3, tickcolor="#333333", tickwidth=1,
        tickfont=dict(size=10, color="#4D4D4D", family=FONT),
        anchor=ya, showline=False)
    layout["yaxis" + s] = dict(
        domain=[fy(y1), fy(y0)], range=list(p["yrange"]),
        tick0=0, dtick=p["dtick"], tickformat=p["fmt"], automargin=False,
        ticklabeloverflow="allow",
        minor=dict(dtick=p["minor"], tick0=0, showgrid=True, gridcolor="#F6F6F6",
                   gridwidth=0.6, ticks=""),
        showgrid=True, gridcolor="white", gridwidth=1, zeroline=False,
        ticks="outside", ticklen=3, tickcolor="#333333", tickwidth=1,
        tickfont=dict(size=10, color="#4D4D4D", family=FONT),
        anchor=xa, showline=False)

    # panel letter
    lx, ly = p["letter_pos"]
    annotations.append(dict(
        text="<b>" + p["letter"] + "</b>", x=fx(lx), y=fy(ly), xref="paper", yref="paper",
        xanchor="left", yanchor="middle", showarrow=False,
        font=dict(size=11.5, color="#000000", family=FONT)))
    # inset title
    tx, ty = p["title_pos"]
    annotations.append(dict(
        text=p["title"], x=fx(tx), y=fy(ty), xref="paper", yref="paper",
        xanchor="left", yanchor="middle", showarrow=False,
        font=dict(size=13, color="#1a1a1a", family=FONT)))
    # x axis title
    annotations.append(dict(
        text="Days since departure", x=fx((x0 + x1) / 2), y=fy(y1 + 28),
        xref="paper", yref="paper", xanchor="center", yanchor="middle",
        showarrow=False, font=dict(size=12, color="#000000", family=FONT)))
    # y axis title
    annotations.append(dict(
        text=p["ytitle"], x=fx(p["ytitle_x"]), y=fy((y0 + y1) / 2 + (4 if y0 == 0 else 0)),
        xref="paper", yref="paper", xanchor="center", yanchor="middle",
        textangle=-90, showarrow=False,
        font=dict(size=12, color="#000000", family=FONT)))

layout["annotations"] = annotations
fig.update_layout(**layout)
fig.write_html(
    "out.html",
    config={"displayModeBar": False},
    post_script="document.body.style.margin='0px';document.body.style.overflow='hidden';",
)
